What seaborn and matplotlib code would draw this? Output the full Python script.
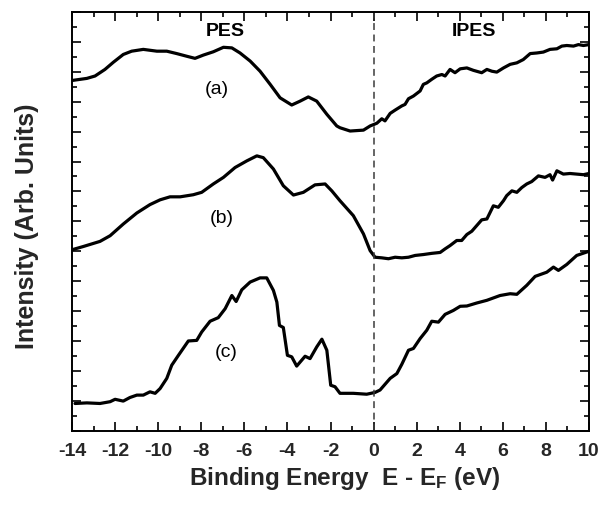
import numpy as np
import pandas as pd
import matplotlib
matplotlib.use("Agg")
import matplotlib.pyplot as plt
import seaborn as sns
from matplotlib.ticker import MultipleLocator

# ---- data ----
a_x = [-14.0, -13.31, -12.93, -12.47, -12.08, -11.62, -11.23, -10.69, -10.06, -9.60, -9.14, -8.67, -8.29, -7.90,
       -7.44, -6.97, -6.58, -6.20, -5.73, -5.27, -4.80, -4.34, -3.80, -3.41, -3.03, -2.64, -2.17, -1.71, -1.56,
       -1.09, -0.47, -0.16, 0.15, 0.38, 0.53, 0.77, 1.00, 1.31, 1.46, 1.62, 1.85, 2.16, 2.31, 2.47, 2.70, 2.93,
       3.17, 3.32, 3.55, 3.78, 4.02, 4.33, 4.63, 5.02, 5.26, 5.49, 5.72, 6.03, 6.34, 6.65, 6.95, 7.27, 7.58,
       7.88, 8.19, 8.51, 8.74, 8.97, 9.28, 9.51, 9.74, 10.0]
a_y = [11.71, 11.78, 11.86, 12.08, 12.32, 12.58, 12.69, 12.75, 12.69, 12.69, 12.61, 12.52, 12.45, 12.56,
       12.67, 12.82, 12.80, 12.63, 12.36, 12.02, 11.58, 11.13, 10.89, 11.02, 11.16, 11.02, 10.58, 10.19, 10.13,
       10.02, 10.05, 10.19, 10.28, 10.43, 10.36, 10.61, 10.72, 10.86, 10.91, 11.10, 11.19, 11.36, 11.58, 11.63,
       11.75, 11.86, 11.91, 11.86, 12.08, 11.97, 12.10, 12.13, 12.05, 11.97, 12.08, 12.02, 11.99, 12.13, 12.25,
       12.30, 12.41, 12.61, 12.63, 12.66, 12.75, 12.77, 12.86, 12.88, 12.86, 12.91, 12.88, 12.91]

b_x = [-14.0, -13.47, -12.70, -12.23, -11.62, -10.99, -10.38, -9.91, -9.45, -8.98, -8.37, -7.98, -7.44, -6.97,
       -6.43, -5.89, -5.42, -5.12, -4.65, -4.19, -3.72, -3.26, -2.72, -2.25, -1.94, -1.56, -0.94, -0.47, -0.16,
       0.07, 0.38, 0.69, 1.00, 1.31, 1.62, 1.93, 2.31, 2.70, 3.09, 3.32, 3.55, 3.86, 4.09, 4.33, 4.56, 4.79,
       5.02, 5.26, 5.41, 5.56, 5.79, 6.03, 6.18, 6.42, 6.65, 6.88, 7.11, 7.34, 7.65, 7.96, 8.19, 8.31, 8.51,
       8.81, 9.12, 9.43, 9.74, 10.0]
b_y = [6.05, 6.16, 6.33, 6.52, 6.91, 7.28, 7.56, 7.72, 7.82, 7.82, 7.89, 7.97, 8.25, 8.47, 8.80, 9.02, 9.19,
       9.13, 8.75, 8.19, 7.88, 7.97, 8.22, 8.25, 8.02, 7.69, 7.19, 6.58, 6.02, 5.80, 5.78, 5.75, 5.80, 5.78,
       5.80, 5.86, 5.89, 5.93, 5.96, 6.08, 6.19, 6.36, 6.36, 6.56, 6.67, 6.86, 7.05, 7.08, 7.30, 7.52, 7.47,
       7.69, 7.86, 8.02, 7.97, 8.13, 8.25, 8.33, 8.52, 8.47, 8.56, 8.38, 8.69, 8.58, 8.60, 8.58, 8.56, 8.60]

c_x = [-13.86, -13.31, -12.70, -12.23, -12.00, -11.62, -11.31, -10.99, -10.69, -10.38, -10.14, -9.91, -9.60,
       -9.37, -9.06, -8.60, -8.21, -7.98, -7.59, -7.21, -6.89, -6.58, -6.38, -6.12, -5.73, -5.27, -4.96, -4.65,
       -4.49, -4.37, -4.19, -4.00, -3.80, -3.57, -3.18, -2.95, -2.64, -2.40, -2.17, -1.99, -1.79, -1.56, -0.94,
       -0.32, 0.07, 0.30, 0.77, 1.08, 1.31, 1.62, 1.85, 2.16, 2.47, 2.70, 3.01, 3.32, 3.70, 4.02, 4.33, 4.79,
       5.26, 5.87, 6.34, 6.65, 7.11, 7.50, 8.04, 8.35, 8.58, 8.97, 9.43, 10.0]
c_y = [0.91, 0.93, 0.91, 0.97, 1.05, 0.99, 1.11, 1.19, 1.19, 1.30, 1.25, 1.41, 1.75, 2.19, 2.52, 3.00, 3.02,
       3.30, 3.66, 3.78, 4.08, 4.52, 4.32, 4.71, 4.97, 5.11, 5.11, 4.69, 4.30, 3.52, 3.45, 2.52, 2.47, 2.16,
       2.49, 2.41, 2.80, 3.06, 2.69, 1.52, 1.47, 1.25, 1.25, 1.22, 1.28, 1.36, 1.75, 1.91, 2.22, 2.69, 2.75,
       3.08, 3.36, 3.66, 3.63, 3.89, 4.02, 4.16, 4.17, 4.27, 4.36, 4.52, 4.58, 4.56, 4.86, 5.16, 5.30, 5.47,
       5.36, 5.56, 5.86, 6.00]

curve_labels = ["(a)", "(b)", "(c)"]
label_x = [-7.27, -7.03, -6.85]
label_y = [11.42, 7.09, 2.62]
region_labels = ["PES", "IPES"]
region_x = [-6.89, 4.67]
region_y = [13.36, 13.36]
x_ticks = list(range(-14, 11, 2))

# ---- styling ----
sns.set_style("ticks")
plt.rcParams["font.family"] = ["Liberation Sans", "DejaVu Sans"]
plt.rcParams["mathtext.fontset"] = "custom"
plt.rcParams["mathtext.rm"] = "Liberation Sans:bold"
plt.rcParams["mathtext.it"] = "Liberation Sans:bold"
plt.rcParams["mathtext.bf"] = "Liberation Sans:bold"

fig = plt.figure(figsize=(6.16, 5.13), dpi=100)
ax = fig.add_axes([72 / 616, 1 - 430.7 / 513, 517 / 616, 418.7 / 513])

frames = []
for name, xs, ys in [("a", a_x, a_y), ("b", b_x, b_y), ("c", c_x, c_y)]:
    frames.append(pd.DataFrame({"E": xs, "I": ys, "curve": name}))
df = pd.concat(frames, ignore_index=True)

sns.lineplot(data=df, x="E", y="I", hue="curve", palette=["black"] * 3, estimator=None,
             sort=False, lw=2.3, legend=False, ax=ax)

ax.axvline(0, color="#3a3a3a", lw=1.1, ls=(0, (4.5, 3)))

for t, x, y in zip(curve_labels, label_x, label_y):
    ax.text(x, y, t, ha="center", va="center", fontsize=14, color="black")
for t, x, y in zip(region_labels, region_x, region_y):
    ax.text(x, y, t, ha="center", va="center", fontsize=14, fontweight="bold", color="black")

ax.set_xlim(-14, 10)
ax.set_ylim(0, 14)
ax.set_xticks(x_ticks)
ax.set_xticklabels([str(v) for v in x_ticks])
ax.xaxis.set_minor_locator(MultipleLocator(1))
ax.yaxis.set_major_locator(MultipleLocator(1))
ax.yaxis.set_minor_locator(MultipleLocator(0.5))
ax.tick_params(which="both", direction="in", top=True, right=True, labelleft=False, width=1.2, color="black")
ax.tick_params(which="major", length=6.5)
ax.tick_params(which="minor", length=3.5)
ax.tick_params(axis="x", which="major", pad=9, labelsize=14)
for lab in ax.get_xticklabels():
    lab.set_fontweight("bold")

for s in ax.spines.values():
    s.set_linewidth(1.4)
    s.set_color("black")

ax.set_xlabel("Binding Energy  E - E$_{\\mathrm{F}}$ (eV)", fontsize=17.5, fontweight="bold", va="center")
ax.xaxis.set_label_coords(0.528, -0.113)
ax.set_ylabel("Intensity (Arb. Units)", fontsize=18, fontweight="bold", va="center")
ax.yaxis.set_label_coords(-0.088, 0.488)

fig.savefig("out.png", dpi=100)
